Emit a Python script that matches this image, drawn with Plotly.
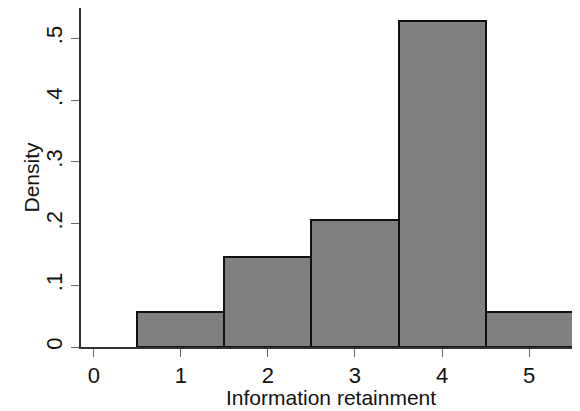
import plotly.graph_objects as go

categories = [1, 2, 3, 4, 5]
density = [0.057, 0.145, 0.205, 0.528, 0.057]
x_ticks = [0, 1, 2, 3, 4, 5]
y_ticks = [0, 0.1, 0.2, 0.3, 0.4, 0.5]
y_tick_labels = ["0", ".1", ".2", ".3", ".4", ".5"]
x_title = "Information retainment"
y_title = "Density"

fig = go.Figure(go.Bar(
    x=categories, y=density, width=1,
    marker=dict(color="#808080", line=dict(color="#111111", width=2)),
))

font = dict(family="Liberation Sans, Arial, sans-serif", color="#111111")
# page body has an 8px margin, so the figure is sized to fit the 580x411 window
fig.update_layout(
    width=572, height=403,
    margin=dict(l=73, r=0, t=0, b=64, autoexpand=False),
    paper_bgcolor="white", plot_bgcolor="white",
    showlegend=False, bargap=0,
    font=dict(size=21, **font),
)
fig.update_xaxes(
    range=[-0.149, 5.586], tickvals=x_ticks, ticktext=[str(v) for v in x_ticks],
    showgrid=False, zeroline=False, automargin=False,
    showline=True, linecolor="#333333", linewidth=1.5, mirror=True,
    ticks="outside", ticklen=8, tickcolor="#666666", tickwidth=1,
    tickfont=dict(size=22, **font),
)
fig.update_yaxes(
    range=[0, 0.549], tickvals=y_ticks, ticktext=y_tick_labels,
    showgrid=False, zeroline=False, automargin=False,
    showline=True, linecolor="#333333", linewidth=1.5, mirror=False,
    ticks="outside", ticklen=8, tickcolor="#666666", tickwidth=1,
    tickangle=-90, tickfont=dict(size=22, **font),
)
fig.add_annotation(text=x_title, xref="paper", yref="paper", x=0.5, y=0,
                   yshift=-50, showarrow=False, xanchor="center", yanchor="middle",
                   font=dict(size=21, **font))
fig.add_annotation(text=y_title, xref="paper", yref="paper", x=0, xshift=-50, y=0.5,
                   showarrow=False, textangle=-90, xanchor="center", yanchor="middle",
                   font=dict(size=21, **font))
fig.write_html("out.html")
